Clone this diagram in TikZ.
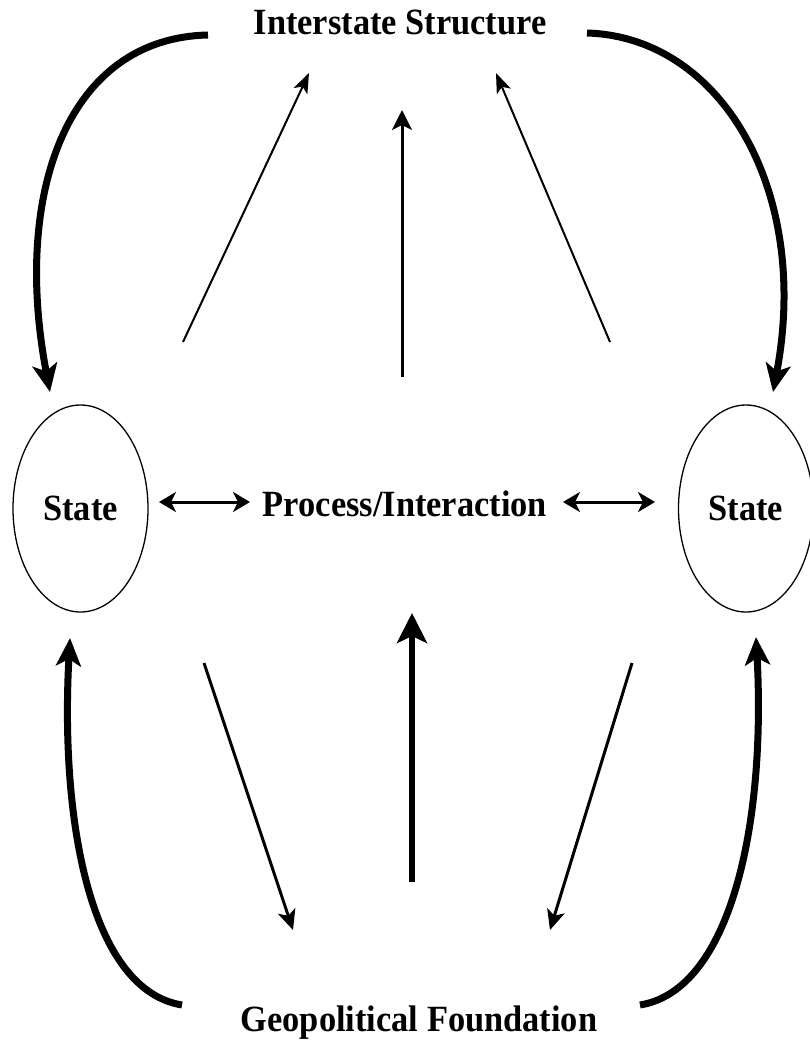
\documentclass[tikz,border=0pt]{standalone}
\usepackage{fontspec}
\setmainfont{Liberation Serif}[FakeStretch=0.93]
\usetikzlibrary{arrows.meta,shapes.geometric}
\tikzset{
  lbl/.style={font=\fontsize{37}{42}\selectfont\bfseries, inner sep=0pt},
  statenode/.style={ellipse, draw, line width=1.3pt, minimum width=135pt, minimum height=207pt, inner sep=0pt, font=\fontsize{37}{42}\selectfont\bfseries},
  bigcurve/.style={line width=7pt, -{Stealth[length=28pt,width=25pt,inset=7pt]}},
  thinarrow/.style={line width=2pt, -{Stealth[length=20pt,width=15pt,inset=5pt]}},
  midarrow/.style={line width=3pt, -{Stealth[length=20pt,width=20pt,inset=5pt]}},
  botmid/.style={line width=6pt, -{Stealth[length=30pt,width=30pt,inset=7pt]}},
  botdiag/.style={line width=3pt, -{Stealth[length=20pt,width=18pt,inset=5pt]}},
  dbl/.style={line width=3pt, {Stealth[length=17pt,width=20pt,inset=5pt]}-{Stealth[length=17pt,width=20pt,inset=5pt]}}
}
\begin{document}
\begin{tikzpicture}[x=1pt,y=-1pt]
\useasboundingbox (0,0) rectangle (809,1041);
% labels
\node[lbl, anchor=base] (is) at (400,35) {Interstate Structure};
\node[lbl, anchor=base] (pi) at (405,516) {Process/Interaction};
\node[lbl, anchor=base] (gf) at (419,1031) {Geopolitical Foundation};
\node[statenode] (sL) at (80.5,508.5) {State};
\node[statenode] (sR) at (746,508.5) {State};
% curve end points
\coordinate (tlS) at (208,35);  \coordinate (tlE) at (50,392);
\coordinate (trS) at (587,33);  \coordinate (trE) at (773,392);
\coordinate (blS) at (182,1005); \coordinate (blE) at (70,638);
\coordinate (brS) at (640,1005); \coordinate (brE) at (756,637);
% straight arrow end points
\coordinate (a1s) at (183,342); \coordinate (a1e) at (309,73);
\coordinate (a2s) at (402,377); \coordinate (a2e) at (402,110);
\coordinate (a3s) at (610,342); \coordinate (a3e) at (496,73);
\coordinate (b1s) at (204,663); \coordinate (b1e) at (293,930);
\coordinate (b2s) at (412,882); \coordinate (b2e) at (412,613);
\coordinate (b3s) at (632,663); \coordinate (b3e) at (550,930);
\coordinate (d1s) at (159,502); \coordinate (d1e) at (250,502);
\coordinate (d2s) at (563,502); \coordinate (d2e) at (655,502);
% curved arrows
\draw[bigcurve] (tlS) .. controls (68,38) and (12,192) .. (tlE);
\draw[bigcurve] (trS) .. controls (722,37) and (811,192) .. (trE);
\draw[bigcurve] (blS) .. controls (90,990) and (60,820) .. (blE);
\draw[bigcurve] (brS) .. controls (732,990) and (766,820) .. (brE);
% top arrows
\draw[thinarrow] (a1s) -- (a1e);
\draw[midarrow] (a2s) -- (a2e);
\draw[thinarrow] (a3s) -- (a3e);
% bottom arrows
\draw[botdiag] (b1s) -- (b1e);
\draw[botmid] (b2s) -- (b2e);
\draw[botdiag] (b3s) -- (b3e);
% double arrows
\draw[dbl] (d1s) -- (d1e);
\draw[dbl] (d2s) -- (d2e);
\end{tikzpicture}
\end{document}
